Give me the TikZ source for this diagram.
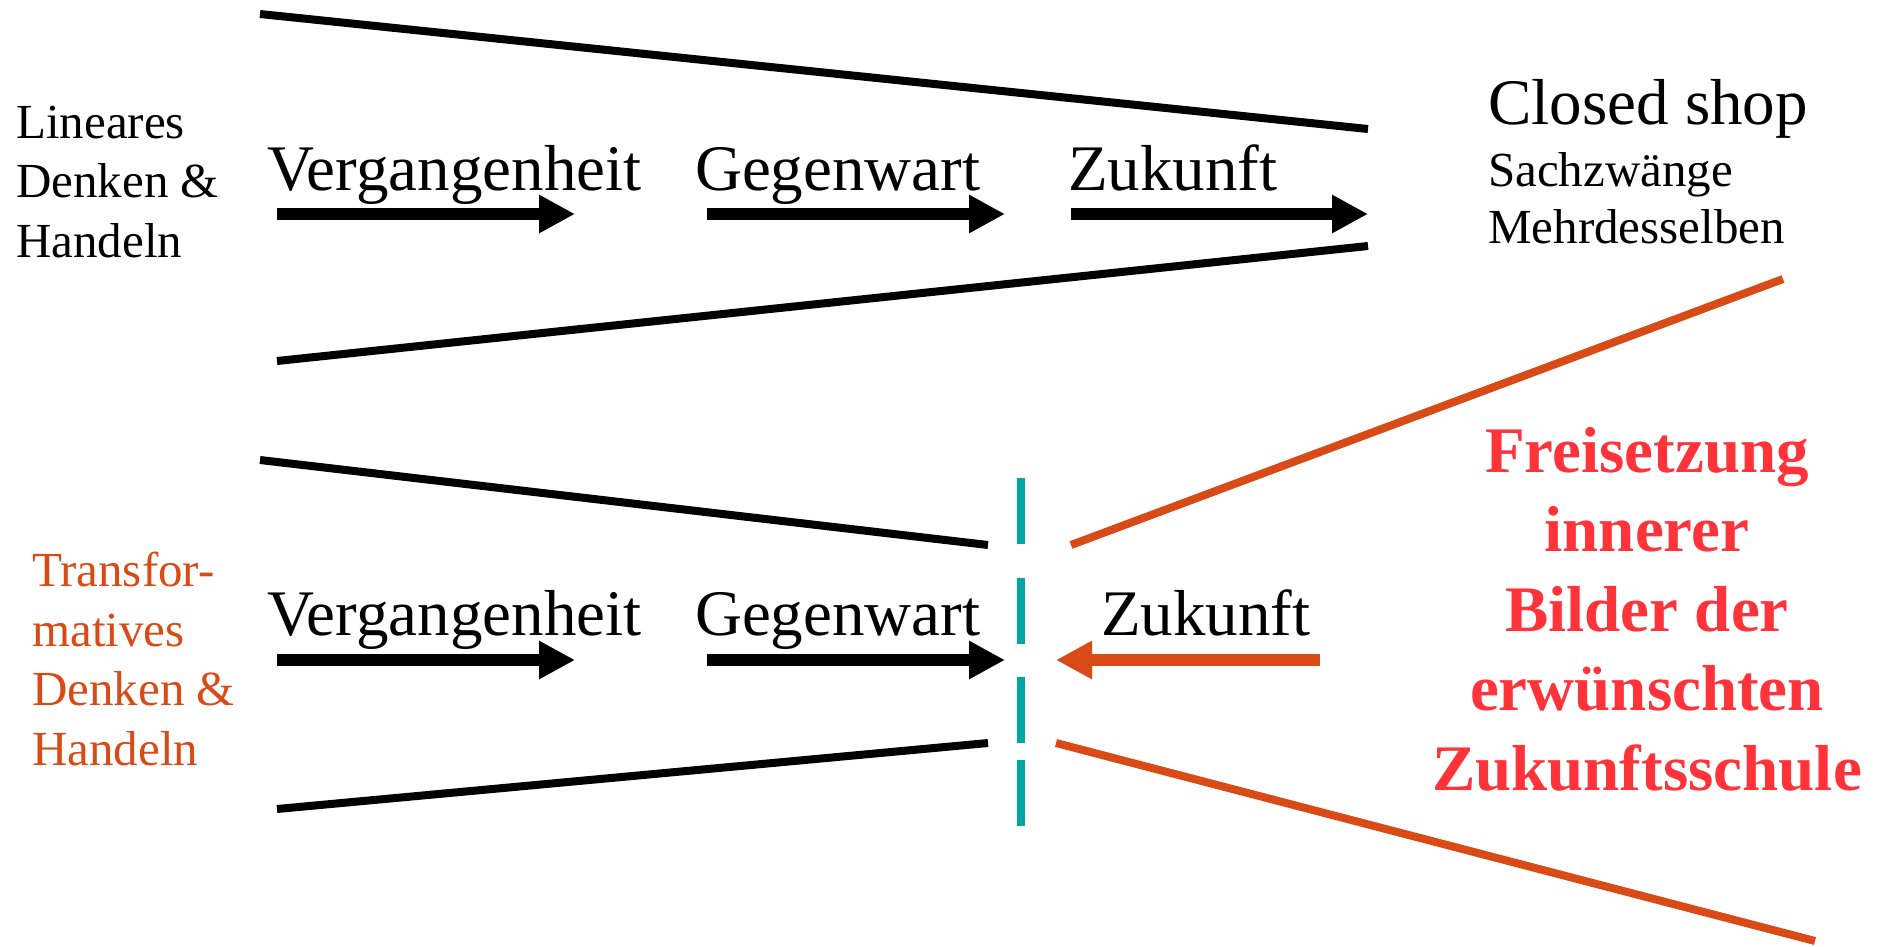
\documentclass[tikz,border=0pt]{standalone}
\usepackage{fontspec}
\setmainfont{Liberation Serif}
\usetikzlibrary{arrows.meta}
\definecolor{rust}{RGB}{216,75,22}
\definecolor{signal}{RGB}{255,51,58}
\definecolor{cut}{RGB}{0,166,166}

\begin{document}
\begin{tikzpicture}[x=1pt,y=-1pt,
    wall/.style={line width=8pt},
    flow/.style={line width=12pt,-{Triangle[length=36pt,width=36pt]}},
    big/.style={inner sep=0pt,anchor=base west,font=\fontsize{65}{78}\selectfont},
    side/.style={inner sep=0pt,anchor=base west,align=left,font=\fontsize{49}{59.5}\selectfont}]
    \useasboundingbox (0,0) rectangle (1885,946);
    % linear funnel
    \draw[wall] (260,14) -- (1368,129);
    \draw[wall] (277,361) -- (1368,246);
    \node[side] (lin) at (16,257) {Lineares\\Denken \&\\Handeln};
    \node[big] (past1) at (267,190) {Vergangenheit};
    \node[big] (now1) at (695,190) {Gegenwart};
    \node[big] (fut1) at (1068,190) {Zukunft};
    \coordinate (a1) at (277,214);
    \coordinate (b1) at (575,214);
    \coordinate (c1) at (707,214);
    \coordinate (d1) at (1005,214);
    \coordinate (e1) at (1071,214);
    \coordinate (f1) at (1368,214);
    \draw[flow] (a1) -- (b1);
    \draw[flow] (c1) -- (d1);
    \draw[flow] (e1) -- (f1);
    \node[big] (shop) at (1488,124) {Closed shop};
    \node[side, font=\fontsize{49}{57}\selectfont] (force) at (1488,243) {Sachzwänge\\Mehrdesselben};
    % transformative funnel
    \draw[wall] (260,460) -- (988,545);
    \draw[wall] (277,809) -- (988,743);
    \draw[wall, rust] (1071,545) -- (1783,279);
    \draw[wall, rust] (1056,743) -- (1815,941);
    \foreach \ya/\yb in {478/544, 578/644, 677/743, 760/826}
        \draw[line width=8pt, cut] (1021,\ya) -- (1021,\yb);
    \node[side, rust] (trans) at (32,765) {Transfor-\\matives\\Denken \&\\Handeln};
    \node[big] (past2) at (267,635) {Vergangenheit};
    \node[big] (now2) at (695,635) {Gegenwart};
    \node[big] (fut2) at (1101,635) {Zukunft};
    \coordinate (a2) at (277,660);
    \coordinate (b2) at (575,660);
    \coordinate (c2) at (707,660);
    \coordinate (d2) at (1005,660);
    \coordinate (e2) at (1320,660);
    \coordinate (f2) at (1056,660);
    \draw[flow] (a2) -- (b2);
    \draw[flow] (c2) -- (d2);
    \draw[flow, rust] (e2) -- (f2);
    \node[inner sep=0pt, anchor=base, align=center, text=signal,
          font=\bfseries\fontsize{65}{79.5}\selectfont] (vision) at (1647,790)
          {Freisetzung\\innerer\\Bilder der\\erwünschten\\Zukunftsschule};
\end{tikzpicture}
\end{document}
